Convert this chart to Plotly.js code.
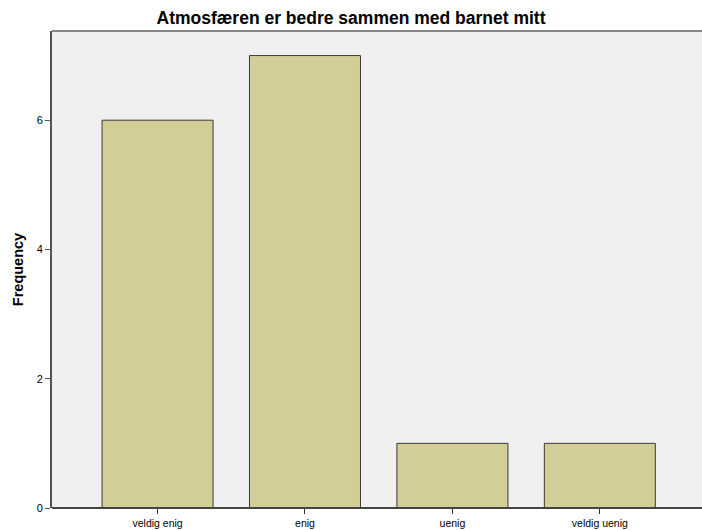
<!DOCTYPE html>
<html>
<head>
<meta charset="utf-8">
<script src="https://cdn.plot.ly/plotly-3.0.1.min.js"></script>
<style>html,body{margin:0;padding:0;background:#fff;}#chart{width:702px;height:530px;}</style>
</head>
<body>
<div id="chart"></div>
<script>
const categories = ["veldig enig", "enig", "uenig", "veldig uenig"];
const frequencies = [6, 7, 1, 1];
const yTicks = [0, 2, 4, 6];
const chartTitle = "Atmosfæren er bedre sammen med barnet mitt";
const yTitle = "Frequency";

const trace = {
  type: "bar",
  x: categories,
  y: frequencies,
  marker: {color: "#d3ce97", line: {color: "#3a3a3a", width: 1}},
  width: 0.753,
  hoverinfo: "x+y"
};

const layout = {
  width: 702,
  height: 530,
  margin: {l: 52, r: 0, t: 31, b: 22},
  paper_bgcolor: "#ffffff",
  plot_bgcolor: "#f0f0f0",
  showlegend: false,
  font: {family: "Liberation Sans, Arial, sans-serif", color: "#000"},
  title: {
    text: chartTitle,
    font: {size: 17.5, family: "Liberation Sans, Arial, sans-serif", color: "#000", weight: "bold"},
    x: 0.5, xref: "container", xanchor: "center", y: 0.967, yanchor: "middle"
  },
  xaxis: {
    type: "category",
    range: [-0.716, 3.693],
    showgrid: false,
    zeroline: false,
    showline: false,
    ticks: "outside",
    ticklen: 5,
    tickcolor: "#333",
    tickwidth: 1,
    tickfont: {size: 10.5, color: "#000"}
  },
  yaxis: {
    range: [0, 7.38],
    tickvals: yTicks,
    ticktext: yTicks.map(String),
    showgrid: false,
    zeroline: false,
    showline: true,
    linecolor: "#555",
    linewidth: 2,
    ticks: "outside",
    ticklen: 5,
    tickcolor: "#555",
    tickfont: {size: 11, color: "#000"},
    title: {text: yTitle, font: {size: 14.5, color: "#000", family: "Liberation Sans, Arial, sans-serif", weight: "bold"}, standoff: 10}
  },
  shapes: [
    {type: "line", xref: "paper", yref: "paper", x0: 0, x1: 1, y0: 1, y1: 1, line: {color: "#888", width: 2}},
    {type: "line", xref: "paper", yref: "paper", x0: 0, x1: 1, y0: 0, y1: 0, line: {color: "#444", width: 2}}
  ]
};

Plotly.newPlot("chart", [trace], layout, {displayModeBar: false, staticPlot: true});
</script>
</body>
</html>
